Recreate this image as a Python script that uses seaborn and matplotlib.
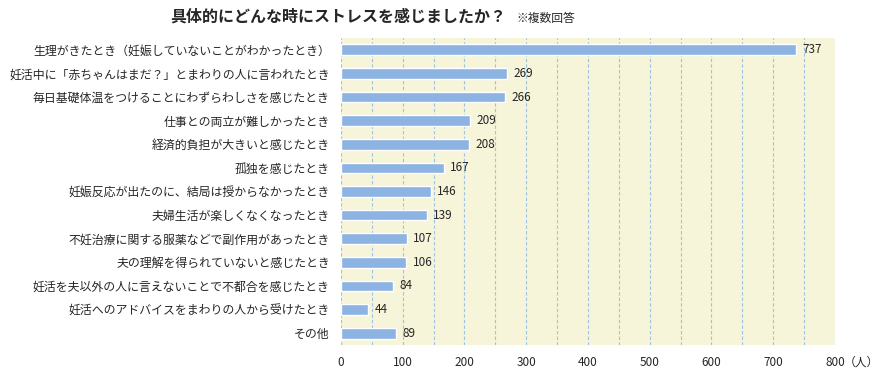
import matplotlib
matplotlib.use("Agg")
import matplotlib.pyplot as plt
import seaborn as sns
import pandas as pd

# data
categories = [
    "生理がきたとき（妊娠していないことがわかったとき）",
    "妊活中に「赤ちゃんはまだ？」とまわりの人に言われたとき",
    "毎日基礎体温をつけることにわずらわしさを感じたとき",
    "仕事との両立が難しかったとき",
    "経済的負担が大きいと感じたとき",
    "孤独を感じたとき",
    "妊娠反応が出たのに、結局は授からなかったとき",
    "夫婦生活が楽しくなくなったとき",
    "不妊治療に関する服薬などで副作用があったとき",
    "夫の理解を得られていないと感じたとき",
    "妊活を夫以外の人に言えないことで不都合を感じたとき",
    "妊活へのアドバイスをまわりの人から受けたとき",
    "その他",
]
counts = [737, 269, 266, 209, 208, 167, 146, 139, 107, 106, 84, 44, 89]
xticks = [0, 100, 200, 300, 400, 500, 600, 700, 800]

df = pd.DataFrame({"item": categories, "count": counts})

sns.set_theme(style="white")
plt.rcParams["font.family"] = ["Noto Sans CJK JP", "DejaVu Sans"]

fig = plt.figure(figsize=(8.82, 3.75), dpi=100)
ax = fig.add_axes([0.3866, 0.08, 0.56, 0.8187])
ax.set_facecolor("#F6F4D9")

sns.barplot(data=df, x="count", y="item", orient="h", color="#8DB3E2",
            saturation=1, width=0.45, ax=ax, zorder=3)

# dashed grid every 50
for v in range(0, 801, 50):
    ax.axvline(v, color="#9DC3E6", lw=0.8, ls=(0, (3, 2)), zorder=1)

ax.set_xlim(0, 800)
ax.set_ylim(len(categories) - 0.5, -0.5)
ax.set_xticks(xticks)
ax.set_xticklabels([str(t) for t in xticks], fontsize=8.5)
ax.tick_params(axis="y", labelsize=8.6, length=0, pad=8)
ax.tick_params(axis="x", length=0, pad=8)
ax.set_xlabel("")
ax.set_ylabel("")
for s in ax.spines.values():
    s.set_visible(False)

for i, v in enumerate(counts):
    ax.text(v + 10, i, str(v), va="center", ha="left", fontsize=8.5, zorder=4)

ax.text(815, -0.036, "（人）", transform=ax.get_xaxis_transform(),
        ha="left", va="top", fontsize=8.5)

fig.text(0.574, 0.955, "具体的にどんな時にストレスを感じましたか？", ha="right",
         va="center", fontsize=11.5, fontweight="bold")
fig.text(0.585, 0.952, "※複数回答", ha="left", va="center", fontsize=8.5)

fig.savefig("out.png", dpi=100)
